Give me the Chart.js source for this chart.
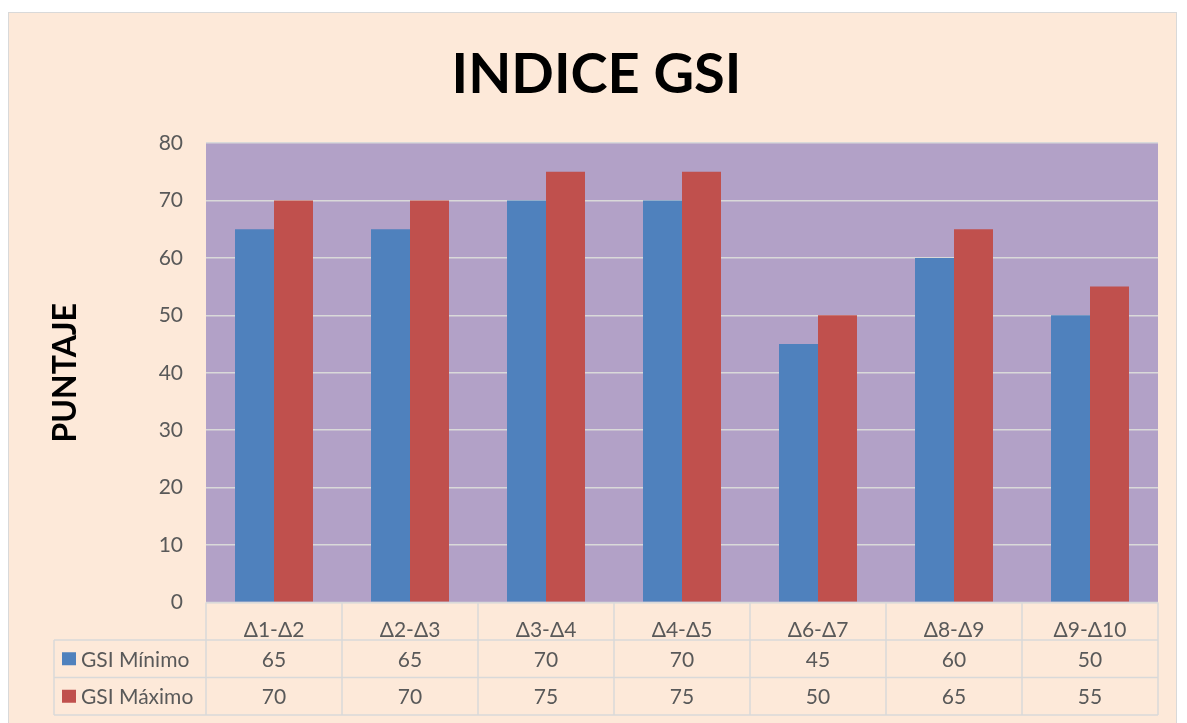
<!DOCTYPE html>
<html>
<head>
<meta charset="utf-8">
<script src="https://cdn.jsdelivr.net/npm/chart.js@4"></script>
<style>
  html, body { margin: 0; padding: 0; background: #fff; }
</style>
</head>
<body>
<canvas id="gsiChart" width="1187" height="723"></canvas>
<script>
// GSI data per tramo
const categories = ['Δ1-Δ2', 'Δ2-Δ3', 'Δ3-Δ4', 'Δ4-Δ5', 'Δ6-Δ7', 'Δ8-Δ9', 'Δ9-Δ10'];
const gsiMinimo = [65, 65, 70, 70, 45, 60, 50];
const gsiMaximo = [70, 70, 75, 75, 50, 65, 55];
const seriesNames = ['GSI Mínimo', 'GSI Máximo'];
const yMin = 0;
const yMax = 80;
const yStep = 10;

const blue = '#4F81BD';
const red = '#C0504D';
const textGrey = '#595959';
const lineGrey = '#D9D9D9';
const fontFamily = 'Lato, "Open Sans", sans-serif';

// background frame, plot area fill and the data table under the axis
const frameAndTable = {
  id: 'frameAndTable',
  beforeDraw(chart) {
    const { ctx, chartArea: a } = chart;
    ctx.save();
    ctx.fillStyle = '#fff';
    ctx.fillRect(0, 0, chart.width, chart.height);
    ctx.fillStyle = '#FDE9D9';
    ctx.fillRect(8, 12, 1169, 720);
    ctx.strokeStyle = lineGrey;
    ctx.lineWidth = 1;
    ctx.strokeRect(8.5, 12.5, 1168, 720);
    ctx.fillStyle = '#B2A1C7';
    ctx.fillRect(a.left, a.top, a.right - a.left, a.bottom - a.top);
    ctx.restore();
  },
  afterDraw(chart) {
    const { ctx, chartArea: a } = chart;
    const xs = chart.scales.x;
    const n = categories.length;
    const cw = (xs.right - xs.left) / n;
    const rowH = 37.5;
    const tableLeft = 54;
    const r1 = a.bottom + rowH;
    const r2 = r1 + rowH;
    const r3 = r2 + rowH;
    ctx.save();
    ctx.strokeStyle = lineGrey;
    ctx.lineWidth = 1.5;
    ctx.beginPath();
    ctx.moveTo(a.left, a.bottom); ctx.lineTo(a.right, a.bottom);
    [r1, r2, r3].forEach(y => { ctx.moveTo(tableLeft, y); ctx.lineTo(a.right, y); });
    for (let i = 0; i <= n; i++) {
      const x = xs.left + i * cw;
      ctx.moveTo(x, a.bottom); ctx.lineTo(x, r3);
    }
    ctx.moveTo(tableLeft, r1); ctx.lineTo(tableLeft, r3);
    ctx.stroke();

    ctx.font = '21px ' + fontFamily;
    ctx.textBaseline = 'middle';
    const rows = [gsiMinimo, gsiMaximo];
    const colors = [blue, red];
    rows.forEach((vals, r) => {
      const cy = r1 + rowH * r + rowH / 2;
      ctx.fillStyle = colors[r];
      ctx.fillRect(62, cy - 6.5, 14, 13);
      ctx.fillStyle = textGrey;
      ctx.textAlign = 'left';
      ctx.fillText(seriesNames[r], 81, cy + 1);
      ctx.textAlign = 'center';
      vals.forEach((v, i) => {
        ctx.fillText(String(v), xs.getPixelForValue(i), cy + 1);
      });
    });
    ctx.restore();
  }
};

new Chart(document.getElementById('gsiChart'), {
  type: 'bar',
  data: {
    labels: categories,
    datasets: [
      { label: seriesNames[0], data: gsiMinimo, backgroundColor: blue },
      { label: seriesNames[1], data: gsiMaximo, backgroundColor: red }
    ]
  },
  options: {
    responsive: false,
    animation: false,
    layout: { padding: { top: 0, left: 35, right: 29, bottom: 83 } },
    datasets: {
      bar: { categoryPercentage: 78 / 136, barPercentage: 1 }
    },
    plugins: {
      legend: { display: false },
      tooltip: { enabled: false },
      title: {
        display: true,
        text: 'INDICE GSI',
        color: '#000',
        font: { family: fontFamily, size: 56, weight: 'bold' },
        padding: { top: 41, bottom: 34.8 }
      }
    },
    scales: {
      x: {
        grid: { display: false },
        border: { display: false },
        ticks: {
          color: textGrey,
          font: { family: fontFamily, size: 21 },
          padding: 7,
          maxRotation: 0
        },
        afterFit(scale) { scale.height = 37.5; }
      },
      y: {
        min: yMin,
        max: yMax,
        grid: { color: lineGrey, lineWidth: 1.5, drawTicks: false },
        border: { display: false },
        ticks: {
          stepSize: yStep,
          color: textGrey,
          font: { family: fontFamily, size: 21 },
          padding: 23
        },
        title: {
          display: true,
          text: 'PUNTAJE',
          color: '#000',
          font: { family: fontFamily, size: 32, weight: 'bold' },
          padding: { top: 11, bottom: 0 }
        },
        afterFit(scale) { scale.width = 171; }
      }
    }
  },
  plugins: [frameAndTable]
});
</script>
</body>
</html>
